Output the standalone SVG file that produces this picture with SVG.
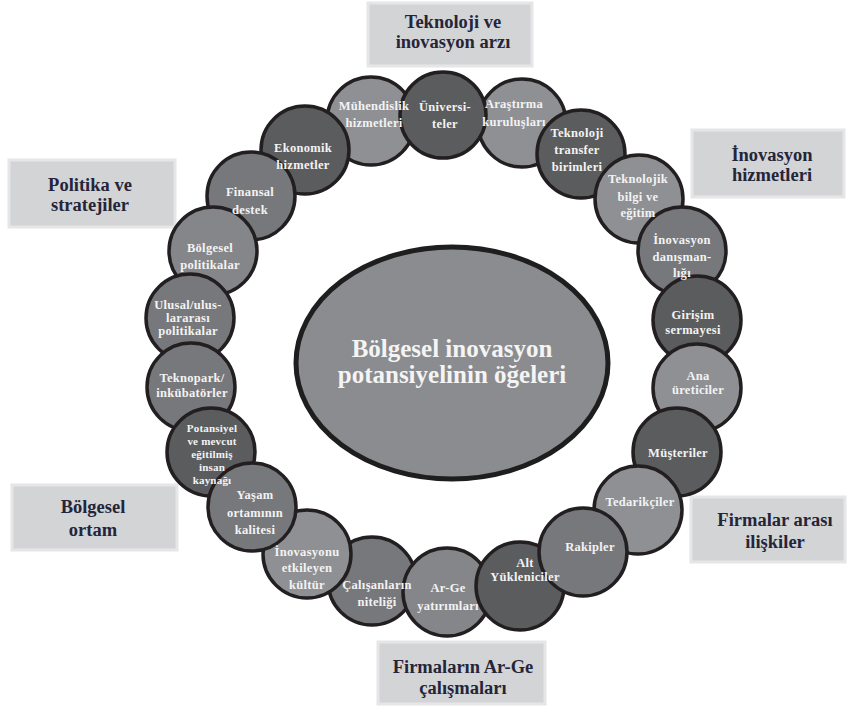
<svg xmlns="http://www.w3.org/2000/svg" width="847" height="707" viewBox="0 0 847 707">
<style>
.bg{fill:#ffffff}
.box{fill:#d3d4d6;stroke:#e6e6e8;stroke-width:3}
.bt{font-family:"Liberation Serif","Times New Roman",serif;font-weight:bold;font-size:18.5px;fill:#25253a;text-anchor:middle}
.c{stroke:#231f20;stroke-width:3.5}
.d{fill:#5b5c5e}
.m{fill:#77787b}
.l{fill:#8f9093}
.lm{fill:#85868a}
.ct{font-family:"Liberation Serif","Times New Roman",serif;font-weight:bold;font-size:12.5px;letter-spacing:0.3px;fill:#f3f3f3;text-anchor:middle}
.sm{font-size:11px;letter-spacing:0.2px}
.mt{font-family:"Liberation Serif","Times New Roman",serif;font-weight:bold;font-size:25px;fill:#f4f4f4;text-anchor:middle}
</style>
<rect class="bg" x="0" y="0" width="847" height="707"/>
<g id="connectors"/>
<g id="label-teknoloji"><rect class="box" x="368" y="3" width="164" height="63"/><text class="bt" x="453" y="28">Teknoloji ve</text><text class="bt" x="453" y="48">inovasyon arzı</text></g>
<g id="label-inovasyon"><rect class="box" x="692" y="130" width="152" height="67"/><text class="bt" x="772" y="161">İnovasyon</text><text class="bt" x="772" y="181">hizmetleri</text></g>
<g id="label-politika"><rect class="box" x="9" y="160" width="166" height="67"/><text class="bt" x="90" y="191">Politika ve</text><text class="bt" x="90" y="211">stratejiler</text></g>
<g id="label-bolgesel"><rect class="box" x="12" y="485" width="165" height="65"/><text class="bt" x="93" y="513">Bölgesel</text><text class="bt" x="93" y="536">ortam</text></g>
<g id="label-firmalar"><rect class="box" x="691" y="497" width="154" height="65"/><text class="bt" x="775" y="526">Firmalar arası</text><text class="bt" x="775" y="548">ilişkiler</text></g>
<g id="label-arge"><rect class="box" x="378" y="642" width="167" height="62"/><text class="bt" x="463" y="673">Firmaların Ar-Ge</text><text class="bt" x="463" y="694">çalışmaları</text></g>

<g id="center"><ellipse cx="452" cy="363" rx="156" ry="116" fill="#8b8c8f" stroke="#1e1e1e" stroke-width="5"/><text class="mt" x="452" y="357">Bölgesel inovasyon</text><text class="mt" x="452" y="383">potansiyelinin öğeleri</text></g>

<g id="nodes">
<g id="n-muhendislik"><circle class="c l" cx="371" cy="121" r="44"/></g>
<g id="n-arastirma"><circle class="c l" cx="522" cy="123" r="44"/></g>
<g id="n-universiteler"><circle class="c d" cx="443" cy="115" r="43"/></g>
<g id="n-ekonomik"><circle class="c d" cx="305" cy="150" r="44"/></g>
<g id="n-transfer"><circle class="c d" cx="581" cy="154" r="44"/></g>
<g id="n-finansal"><circle class="c m" cx="251" cy="196" r="44"/></g>
<g id="n-teknolojik"><circle class="c l" cx="639" cy="199" r="44"/></g>
<g id="n-bolgesel-pol"><circle class="c lm" cx="213" cy="251" r="44"/></g>
<g id="n-danismanlik"><circle class="c m" cx="682" cy="251" r="44"/></g>
<g id="n-ulusal"><circle class="c m" cx="190" cy="318" r="44"/></g>
<g id="n-girisim"><circle class="c d" cx="697" cy="320" r="44"/></g>
<g id="n-teknopark"><circle class="c m" cx="191" cy="387" r="44"/></g>
<g id="n-ana"><circle class="c l" cx="697" cy="388" r="44"/></g>
<g id="n-potansiyel"><circle class="c d" cx="211" cy="452" r="44"/></g>
<g id="n-musteriler"><circle class="c d" cx="677" cy="452" r="44"/></g>
<g id="n-calisanlar"><circle class="c m" cx="372" cy="581" r="44"/></g>
<g id="n-kultur"><circle class="c l" cx="307" cy="554" r="44"/></g>
<g id="n-yasam"><circle class="c m" cx="252" cy="507" r="44"/></g>
<g id="n-arge"><circle class="c lm" cx="447" cy="592" r="44"/></g>
<g id="n-alt"><circle class="c d" cx="520" cy="586" r="44"/></g>
<g id="n-tedarikciler"><circle class="c l" cx="638" cy="510" r="44"/></g>
<g id="n-rakipler"><circle class="c m" cx="583" cy="552" r="44"/></g>
</g>

<g id="node-labels">
<g id="n-muhendislik-label"><text class="ct" x="374" y="110">Mühendislik</text><text class="ct" x="374" y="127">hizmetleri</text></g>
<g id="n-arastirma-label"><text class="ct" x="514" y="108">Araştırma</text><text class="ct" x="514" y="126">kuruluşları</text></g>
<g id="n-universiteler-label"><text class="ct" x="445" y="111">Üniversi-</text><text class="ct" x="445" y="128">teler</text></g>
<g id="n-ekonomik-label"><text class="ct" x="303" y="152">Ekonomik</text><text class="ct" x="303" y="169">hizmetler</text></g>
<g id="n-transfer-label"><text class="ct" x="577" y="137">Teknoloji</text><text class="ct" x="577" y="154">transfer</text><text class="ct" x="577" y="171">birimleri</text></g>
<g id="n-finansal-label"><text class="ct" x="250" y="196">Finansal</text><text class="ct" x="250" y="214">destek</text></g>
<g id="n-teknolojik-label"><text class="ct" x="638" y="183">Teknolojik</text><text class="ct" x="638" y="201">bilgi ve</text><text class="ct" x="638" y="217">eğitim</text></g>
<g id="n-bolgesel-pol-label"><text class="ct" x="210" y="252">Bölgesel</text><text class="ct" x="210" y="269">politikalar</text></g>
<g id="n-danismanlik-label"><text class="ct" x="682" y="244">İnovasyon</text><text class="ct" x="682" y="261">danışman-</text><text class="ct" x="682" y="277">lığı</text></g>
<g id="n-ulusal-label"><text class="ct" x="188" y="309">Ulusal/ulus-</text><text class="ct" x="188" y="322">lararası</text><text class="ct" x="188" y="335">politikalar</text></g>
<g id="n-girisim-label"><text class="ct" x="693" y="319">Girişim</text><text class="ct" x="693" y="334">sermayesi</text></g>
<g id="n-teknopark-label"><text class="ct" x="192" y="382">Teknopark/</text><text class="ct" x="192" y="397">inkübatörler</text></g>
<g id="n-ana-label"><text class="ct" x="698" y="380">Ana</text><text class="ct" x="698" y="394">üreticiler</text></g>
<g id="n-potansiyel-label"><text class="ct sm" x="212" y="432">Potansiyel</text><text class="ct sm" x="212" y="445">ve mevcut</text><text class="ct sm" x="212" y="458">eğitilmiş</text><text class="ct sm" x="212" y="471">insan</text><text class="ct sm" x="212" y="484">kaynağı</text></g>
<g id="n-musteriler-label"><text class="ct" x="678" y="457">Müşteriler</text></g>
<g id="n-calisanlar-label"><text class="ct" x="377" y="589">Çalışanların</text><text class="ct" x="377" y="606">niteliği</text></g>
<g id="n-kultur-label"><text class="ct" x="307" y="556">İnovasyonu</text><text class="ct" x="307" y="572">etkileyen</text><text class="ct" x="307" y="589">kültür</text></g>
<g id="n-yasam-label"><text class="ct" x="255" y="499">Yaşam</text><text class="ct" x="255" y="517">ortamının</text><text class="ct" x="255" y="534">kalitesi</text></g>
<g id="n-arge-label"><text class="ct" x="448" y="592">Ar-Ge</text><text class="ct" x="448" y="610">yatırımları</text></g>
<g id="n-alt-label"><text class="ct" x="525" y="567">Alt</text><text class="ct" x="525" y="581">Yükleniciler</text></g>
<g id="n-tedarikciler-label"><text class="ct" x="640" y="506">Tedarikçiler</text></g>
<g id="n-rakipler-label"><text class="ct" x="590" y="551">Rakipler</text></g>
</g>
</svg>
